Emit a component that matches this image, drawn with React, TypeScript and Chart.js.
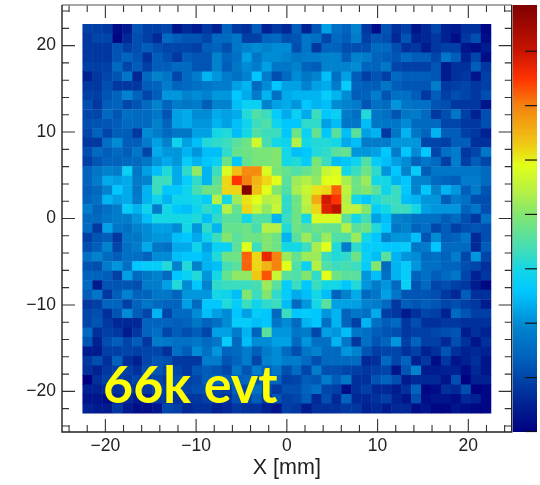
import React, { useEffect, useRef } from "react";
import { Chart, registerables } from "chart.js";

Chart.register(...registerables);

const xEdgeMin = -22.5;
const binSize = 45 / 41;
const zMax = 78.5;
const xTickValues = [-20, -10, 0, 10, 20];
const yTickValues = [-20, -10, 0, 10, 20];
const minorTicks = [-24, -22, -18, -16, -14, -12, -8, -6, -4, -2, 2, 4, 6, 8, 12, 14, 16, 18, 22, 24];
const majorTicks = [-20, -10, 0, 10, 20];
const zTicks = [0, 10, 20, 30, 40, 50, 60, 70];
const eventLabel = "66k evt";
const xTitle = "X [mm]";

// counts per bin, first row is the top of the picture
const counts: number[][] = [
  [9,9,8,2,4,12,9,9,10,3,6,4,8,5,14,8,7,13,5,8,6,13,5,12,22,16,14,19,8,2,12,7,9,3,6,10,5,4,7,7,1],
  [8,10,10,1,6,11,9,6,15,13,12,12,10,15,15,17,9,9,14,15,11,12,17,16,10,15,13,18,9,12,11,6,12,5,6,8,5,2,8,11,2],
  [8,8,8,12,9,11,13,11,10,10,10,9,13,14,11,17,19,20,19,20,20,11,17,8,14,14,11,11,11,15,15,11,7,8,4,8,9,9,3,2,4],
  [8,8,8,12,14,12,7,13,11,8,13,12,12,19,14,16,22,17,20,20,19,17,18,18,19,19,13,19,18,14,13,12,15,13,13,10,17,13,5,10,2],
  [9,9,9,15,10,13,9,13,13,15,15,12,12,19,13,17,20,18,22,17,17,19,14,13,19,19,19,20,14,14,17,10,9,9,9,12,4,7,7,13,8],
  [5,8,10,12,17,6,15,19,17,10,15,18,24,21,18,16,19,26,18,11,15,20,17,19,25,16,22,13,9,12,9,15,13,13,13,12,4,7,8,3,9],
  [8,8,11,8,8,8,13,14,18,14,15,16,17,18,18,22,24,15,20,26,22,22,19,22,23,18,27,14,13,13,17,13,12,12,12,18,8,9,10,8,9],
  [9,9,12,14,19,14,10,13,21,21,19,20,19,21,21,26,23,18,24,16,23,24,24,24,27,24,20,13,14,18,12,16,16,13,8,13,9,11,10,8,11],
  [11,8,13,14,10,12,15,19,14,18,17,18,13,19,19,25,28,28,19,22,23,21,26,24,25,20,19,18,12,16,15,21,17,16,16,12,11,8,8,8,3],
  [10,10,15,12,16,15,15,17,12,22,23,20,20,23,22,23,31,35,33,27,23,28,23,33,26,28,18,16,31,17,16,12,17,18,15,8,11,17,9,5,11],
  [11,12,12,13,15,15,15,19,14,22,23,21,21,24,22,25,29,33,35,29,26,26,32,32,22,25,17,17,25,17,17,17,20,15,15,15,10,10,8,8,11],
  [10,14,10,13,13,8,20,18,15,17,17,22,22,30,31,25,30,35,33,33,26,38,28,37,26,36,25,36,22,24,8,17,24,17,14,24,13,13,9,8,5],
  [8,8,16,20,13,13,18,22,19,29,22,25,31,32,33,36,38,47,34,30,29,44,30,31,31,30,23,25,18,18,18,21,21,21,10,10,9,13,13,7,7],
  [11,15,13,15,13,17,10,23,21,21,24,21,25,25,32,37,38,39,39,40,30,25,26,31,32,36,37,21,21,22,26,18,26,20,26,10,16,18,8,10,17],
  [9,12,14,14,15,15,17,21,23,21,27,24,26,28,38,26,37,39,39,40,30,31,27,39,33,25,26,29,35,27,25,22,20,14,17,15,9,18,9,13,10],
  [14,17,19,18,28,17,22,25,31,23,32,41,24,33,48,54,59,59,48,39,37,35,37,40,46,48,30,33,38,32,21,26,19,27,13,17,17,17,17,17,15],
  [14,18,23,22,23,18,19,33,33,23,27,32,24,36,52,65,60,55,52,49,36,42,44,41,49,49,43,38,42,30,30,24,26,19,19,15,14,13,18,18,15],
  [13,15,19,26,23,17,24,33,26,26,29,34,38,38,52,52,78,54,49,40,35,43,46,51,52,62,45,38,40,36,29,33,26,19,26,19,24,21,13,18,12],
  [14,16,24,22,23,18,24,29,24,29,29,30,27,44,30,42,51,49,44,45,32,38,45,56,69,65,44,30,26,31,33,33,25,24,21,21,13,18,16,11,11],
  [18,14,16,18,27,24,29,18,30,26,25,29,32,30,44,37,52,46,41,46,32,38,44,52,68,71,45,45,40,27,30,33,33,30,22,21,21,21,14,17,11],
  [15,15,17,18,18,21,25,30,30,30,30,31,25,32,36,36,30,35,35,24,33,38,30,48,48,48,36,30,34,22,25,19,18,16,16,16,13,15,11,8,16],
  [15,8,22,17,16,19,20,22,22,20,30,21,32,24,37,37,38,34,44,44,31,38,36,38,37,37,44,36,38,31,26,17,19,14,16,10,13,9,11,12,11],
  [9,12,13,8,17,17,20,21,21,25,26,23,29,33,40,36,38,38,40,38,24,36,42,36,42,35,35,42,30,26,19,21,21,25,12,20,13,14,17,6,11],
  [11,13,19,10,16,18,23,17,16,23,23,29,22,28,28,36,49,33,40,38,30,30,33,43,49,31,18,32,27,27,26,26,27,17,18,26,15,15,15,6,13],
  [16,19,15,13,16,16,14,20,20,25,26,26,24,31,38,38,62,52,67,60,42,37,42,42,33,31,32,38,28,25,36,24,21,20,15,16,14,18,10,21,10],
  [12,11,18,21,16,26,27,27,31,19,31,19,24,25,34,36,62,52,55,60,49,35,28,44,35,33,34,33,27,40,15,24,27,21,16,16,14,14,11,10,7],
  [14,14,13,9,22,15,17,19,15,26,28,31,21,30,37,41,41,53,63,46,36,35,40,32,49,38,36,36,21,25,16,24,27,14,16,13,15,17,10,5,8],
  [15,4,12,12,12,11,18,18,22,31,20,26,19,32,33,33,33,34,42,36,27,33,26,33,30,30,26,31,21,18,21,15,28,12,15,10,11,9,8,4,1],
  [13,17,8,13,19,14,14,17,17,14,21,21,21,30,29,25,40,33,40,32,27,23,25,30,25,14,19,23,15,17,22,17,12,12,12,11,8,6,13,7,7],
  [8,9,14,14,9,14,17,15,14,14,22,15,26,26,31,27,33,29,32,33,25,15,21,30,36,22,22,22,19,18,15,8,13,12,13,12,10,11,9,8,4],
  [10,11,7,12,20,13,10,24,10,15,15,20,25,22,20,26,22,27,26,15,33,26,27,26,21,24,14,17,16,23,9,8,4,7,10,9,5,15,12,9,9],
  [10,12,8,6,6,6,14,14,14,13,14,17,14,16,20,27,27,25,26,17,20,15,24,26,16,24,14,9,24,16,13,15,8,11,7,7,8,8,7,7,7],
  [15,7,9,8,4,8,14,16,10,13,11,13,10,22,22,18,24,14,36,21,21,17,18,10,22,21,25,17,16,13,12,11,8,9,9,10,11,12,4,7,5],
  [12,5,11,13,10,13,8,18,17,16,16,17,15,17,27,15,25,20,20,22,22,15,21,16,16,24,17,8,16,12,14,21,9,14,9,9,6,11,7,3,7],
  [4,4,9,9,10,9,10,10,7,16,13,20,16,21,14,15,18,13,18,20,15,11,17,19,15,15,21,19,12,9,10,10,7,9,5,7,12,7,5,6,5],
  [8,11,7,14,7,5,10,12,11,8,8,8,18,18,12,14,18,10,19,20,18,18,15,11,15,15,15,15,6,7,15,10,14,5,8,2,8,3,5,7,3],
  [7,5,8,9,9,7,11,12,10,10,8,12,13,12,10,17,12,18,14,17,11,15,10,18,11,11,10,9,8,9,10,3,12,19,4,4,5,5,2,6,3],
  [0,7,9,9,8,10,9,10,8,11,9,10,13,14,13,13,14,12,14,14,9,10,13,12,18,13,17,7,7,12,14,11,4,6,6,6,3,11,0,5,5],
  [5,5,6,7,7,7,8,9,9,9,10,11,11,10,9,13,10,16,11,8,11,11,14,16,10,9,2,7,9,6,6,4,7,14,1,2,7,6,11,0,1],
  [3,3,2,5,6,4,4,8,8,7,8,8,9,9,7,11,10,13,8,12,9,10,13,6,11,6,14,6,6,7,9,5,3,11,2,3,3,2,6,5,1],
  [5,4,4,8,4,2,2,3,10,9,6,7,7,5,6,8,7,7,5,3,9,8,4,7,7,7,8,8,5,6,4,6,6,2,3,1,1,3,2,1,1],
];

// colour palette of the z axis
const paletteValues = [0, 6, 10, 14, 19, 23, 26, 30, 33, 40, 44, 49, 53, 60, 65, 70, 78.5];
const paletteColors = [
  [0, 0, 130], [0, 40, 150], [0, 70, 170], [0, 100, 190], [0, 130, 205], [0, 170, 235],
  [0, 200, 255], [20, 215, 230], [60, 220, 190], [130, 230, 110], [180, 240, 70],
  [225, 255, 25], [240, 200, 20], [245, 130, 15], [255, 50, 0], [200, 20, 0], [128, 0, 0],
];

function colorFor(v: number): string {
  let k = 0;
  while (k < paletteValues.length - 2 && v > paletteValues[k + 1]) k++;
  const t = Math.min(1, Math.max(0, (v - paletteValues[k]) / (paletteValues[k + 1] - paletteValues[k])));
  const a = paletteColors[k];
  const b = paletteColors[k + 1];
  return `rgb(${a.map((c, j) => Math.round(c + (b[j] - c) * t)).join(",")})`;
}

const FONT = '"Liberation Sans", Arial, sans-serif';

const cells: { x: number; y: [number, number] }[] = [];
const cellColors: string[] = [];
counts.forEach((row, r) => {
  row.forEach((v, c) => {
    const top = -xEdgeMin - r * binSize;
    cells.push({ x: xEdgeMin + (c + 0.5) * binSize, y: [top - binSize * 1.05, top] });
    cellColors.push(colorFor(v));
  });
});

const noPadding = (s: any) => {
  s.paddingTop = 0;
  s.paddingBottom = 0;
  s.paddingLeft = 0;
  s.paddingRight = 0;
};

const decorPlugin = {
  id: "decor",
  afterDraw(chart: any) {
    const { ctx, chartArea: a, scales } = chart;
    const x = scales.x;
    const y = scales.y;
    const z = scales.z;
    ctx.save();

    // colour bar
    const barL = a.right + 1;
    const barR = 537;
    for (let py = Math.floor(a.top); py < a.bottom; py++) {
      ctx.fillStyle = colorFor(z.getValueForPixel(py + 0.5));
      ctx.fillRect(barL, py, barR - barL, 1);
    }
    ctx.strokeStyle = "#111";
    ctx.lineWidth = 1.2;
    zTicks.forEach((v) => {
      const py = Math.min(z.getPixelForValue(v), a.bottom - 0.5);
      ctx.beginPath();
      ctx.moveTo(525, py);
      ctx.lineTo(537, py);
      ctx.stroke();
    });

    // inward ticks on all four sides
    const tick = (vals: number[], len: number) => {
      ctx.beginPath();
      vals.forEach((v) => {
        const px = x.getPixelForValue(v);
        ctx.moveTo(px, a.bottom);
        ctx.lineTo(px, a.bottom - len);
        ctx.moveTo(px, a.top);
        ctx.lineTo(px, a.top + len);
        const py = y.getPixelForValue(v);
        ctx.moveTo(a.left, py);
        ctx.lineTo(a.left + len, py);
        ctx.moveTo(a.right, py);
        ctx.lineTo(a.right - len, py);
      });
      ctx.stroke();
    };
    ctx.strokeStyle = "#333";
    ctx.lineWidth = 1.1;
    tick(minorTicks, 7);
    tick(majorTicks, 13);

    // frame
    ctx.lineWidth = 1.4;
    ctx.strokeStyle = "#8a8a8a";
    ctx.beginPath();
    ctx.moveTo(a.left, a.top);
    ctx.lineTo(a.right, a.top);
    ctx.stroke();
    ctx.strokeStyle = "#222";
    ctx.beginPath();
    ctx.moveTo(a.left, a.top);
    ctx.lineTo(a.left, a.bottom);
    ctx.lineTo(a.right, a.bottom);
    ctx.lineTo(a.right, a.top);
    ctx.stroke();

    // event label
    ctx.fillStyle = "#ffff00";
    ctx.font = 'bold 52px Lato, "Open Sans", sans-serif';
    ctx.textAlign = "left";
    ctx.textBaseline = "alphabetic";
    ctx.fillText(eventLabel, 103, 403);
    ctx.restore();
  },
};

export default function App() {
  const ref = useRef<HTMLCanvasElement | null>(null);
  useEffect(() => {
    const chart = new Chart(ref.current as HTMLCanvasElement, {
      type: "bar",
      data: {
        datasets: [
          {
            data: cells as any,
            backgroundColor: cellColors,
            borderWidth: 0,
            barPercentage: 1.05,
            categoryPercentage: 1,
          },
        ],
      },
      options: {
        animation: false,
        responsive: false,
        layout: { padding: { top: 5, right: 28.3, left: 0, bottom: 0 } },
        plugins: { legend: { display: false }, tooltip: { enabled: false } },
        scales: {
          x: {
            type: "linear",
            offset: false,
            min: -24.78,
            max: 24.78,
            grid: { display: false, drawTicks: false, tickLength: 0 },
            border: { display: false },
            afterBuildTicks: (s: any) => {
              s.ticks = xTickValues.map((value) => ({ value }));
            },
            afterFit: (s: any) => {
              s.height = 53;
              noPadding(s);
            },
            ticks: {
              maxRotation: 0,
              padding: 4,
              color: "#222",
              font: { family: FONT, size: 17.5 },
              callback: (v: any) => String(v).replace("-", "\u2212"),
            },
            title: {
              display: true,
              text: xTitle,
              color: "#222",
              font: { family: FONT, size: 21.5 },
              padding: { top: 0, bottom: 4 },
            },
          },
          y: {
            type: "linear",
            min: -24.7,
            max: 24.7,
            grid: { display: false, drawTicks: false, tickLength: 0 },
            border: { display: false },
            afterBuildTicks: (s: any) => {
              s.ticks = yTickValues.map((value) => ({ value }));
            },
            afterFit: (s: any) => {
              s.width = 62;
              noPadding(s);
            },
            ticks: {
              padding: 6,
              color: "#222",
              font: { family: FONT, size: 17.5 },
              callback: (v: any) => String(v).replace("-", "\u2212"),
            },
          },
          z: { type: "linear", display: false, position: "right", min: 0, max: zMax },
        },
      },
      plugins: [decorPlugin],
    } as any);
    return () => chart.destroy();
  }, []);
  return (
    <div style={{ position: "absolute", left: 0, top: 0, width: 540, height: 485 }}>
      <canvas ref={ref} width={540} height={485} style={{ display: "block" }} />
    </div>
  );
}
